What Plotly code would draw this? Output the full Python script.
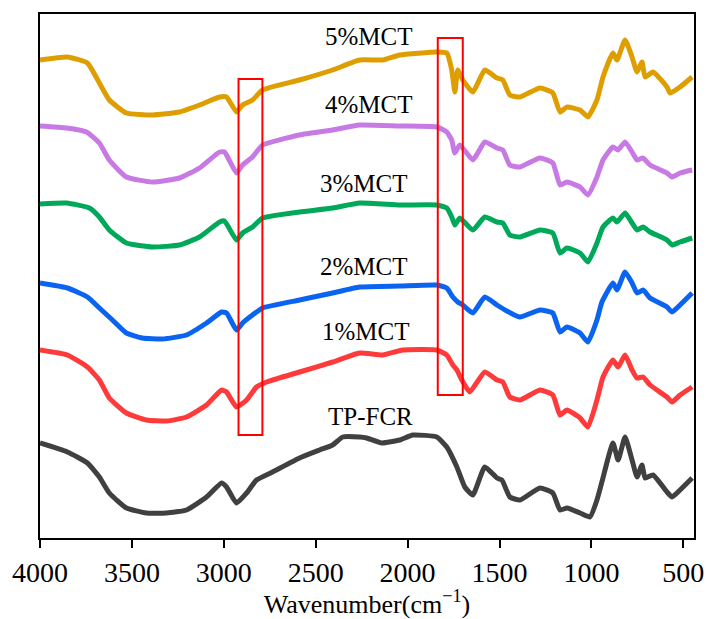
import plotly.graph_objects as go

# FTIR spectra (stacked, arbitrary transmittance units)
wn_5 = [4000, 3851, 3742, 3677, 3623, 3530, 3388, 3241, 3132, 3023, 2985, 2931, 2898, 2844, 2789,
        2588, 2408, 2261, 2135, 2043, 1841, 1787, 1760, 1743, 1727, 1700, 1645, 1580, 1514, 1482,
        1444, 1389, 1280, 1210, 1171, 1133, 1062, 1019, 970, 937, 883, 861, 817, 779, 752, 725,
        708, 665, 589, 572, 518, 452]
t_5 = [47.8, 48.1, 47.5, 45.5, 43.8, 42.5, 42.3, 42.6, 43.3, 44.1, 44.1, 42.6, 43.3, 43.8, 44.8,
       45.8, 46.8, 47.8, 47.8, 48.3, 48.6, 48.5, 46.8, 44.6, 46.8, 45.8, 44.6, 46.8, 46.0, 45.8,
       44.3, 44.1, 45.0, 44.5, 42.6, 43.1, 42.8, 42.1, 43.8, 46.1, 48.5, 47.8, 49.8, 48.1, 46.6, 47.6,
       46.1, 46.6, 45.1, 44.5, 45.1, 46.1]

wn_4 = [4000, 3856, 3747, 3677, 3623, 3530, 3388, 3241, 3132, 3023, 2996, 2931, 2898, 2844, 2789,
        2588, 2408, 2261, 2043, 1841, 1787, 1760, 1743, 1716, 1645, 1580, 1514, 1482, 1444, 1389,
        1280, 1210, 1171, 1133, 1062, 1019, 970, 937, 883, 855, 817, 779, 752, 720, 681, 589, 561,
        518, 452]
t_4 = [41.2, 41.0, 40.6, 39.5, 37.8, 36.1, 35.6, 36.0, 37.0, 38.6, 38.6, 36.5, 37.3, 38.1, 39.3,
       40.3, 40.8, 41.3, 41.2, 41.1, 40.6, 39.8, 38.5, 39.3, 37.8, 39.6, 39.0, 38.8, 37.3, 37.1,
       38.0, 37.5, 35.3, 35.6, 35.1, 34.3, 36.1, 37.8, 39.1, 38.8, 39.6, 38.6, 37.8, 38.0, 37.3, 36.5, 36.1,
       36.5, 36.8]

wn_3 = [4000, 3856, 3731, 3677, 3623, 3530, 3388, 3241, 3132, 3023, 2996, 2931, 2898, 2844, 2789,
        2588, 2408, 2261, 2043, 1841, 1787, 1760, 1743, 1716, 1645, 1580, 1514, 1482, 1444, 1389,
        1280, 1210, 1171, 1133, 1062, 1019, 970, 937, 883, 861, 817, 779, 752, 719, 681, 589, 561,
        518, 452]
t_3 = [33.4, 33.5, 33.0, 32.1, 30.8, 29.5, 29.1, 29.3, 30.1, 31.6, 31.7, 29.8, 30.5, 31.1, 32.0,
       32.6, 33.0, 33.5, 33.3, 33.3, 33.0, 32.1, 31.3, 32.0, 30.8, 32.1, 31.6, 31.5, 30.3, 30.1,
       30.8, 30.5, 28.5, 29.0, 28.5, 27.6, 29.5, 31.1, 32.0, 31.6, 32.5, 31.5, 30.8, 31.1, 30.6, 29.8, 29.3,
       29.6, 30.0]

wn_2 = [4000, 3851, 3742, 3677, 3606, 3530, 3443, 3334, 3203, 3094, 3012, 2985, 2931, 2898, 2844,
        2789, 2588, 2408, 2261, 2043, 1841, 1787, 1754, 1727, 1700, 1645, 1580, 1514, 1460, 1389,
        1280, 1210, 1171, 1133, 1062, 1019, 970, 943, 883, 861, 817, 779, 752, 719, 681, 589, 561,
        518, 452]
t_2 = [25.5, 25.0, 24.1, 23.0, 21.8, 20.5, 20.0, 19.9, 20.3, 21.5, 22.6, 22.5, 20.8, 21.5, 22.3,
       23.0, 23.8, 24.5, 25.1, 25.2, 25.3, 25.0, 24.1, 23.6, 23.3, 22.5, 24.1, 23.3, 22.7, 22.1,
       22.8, 22.5, 20.6, 21.1, 20.5, 19.6, 21.8, 23.6, 25.5, 24.8, 26.6, 25.5, 24.5, 24.8, 24.0, 23.1, 22.6,
       23.3, 24.5]

wn_1 = [4000, 3851, 3742, 3677, 3623, 3530, 3421, 3312, 3203, 3094, 3012, 2985, 2931, 2876, 2822,
        2767, 2588, 2408, 2261, 2135, 2027, 1841, 1787, 1754, 1732, 1705, 1662, 1580, 1514, 1482,
        1444, 1389, 1280, 1210, 1171, 1133, 1062, 1019, 970, 937, 883, 855, 817, 779, 752, 719, 681,
        589, 561, 518, 452]
t_1 = [18.8, 18.3, 17.1, 15.8, 14.0, 12.5, 11.8, 11.7, 12.1, 13.3, 14.8, 14.6, 13.1, 13.8, 15.1,
       15.6, 16.6, 17.6, 18.5, 18.3, 18.8, 18.8, 18.3, 17.3, 16.8, 15.8, 14.6, 16.6, 15.8, 15.6,
       14.1, 13.8, 14.8, 14.3, 12.3, 12.8, 12.0, 11.1, 13.8, 16.1, 17.8, 17.1, 18.3, 16.8, 16.0, 16.1, 15.3,
       14.1, 13.6, 14.3, 15.1]

wn_0 = [4000, 3851, 3742, 3677, 3623, 3530, 3421, 3312, 3203, 3094, 3012, 2985, 2931, 2876, 2822,
        2735, 2588, 2479, 2408, 2353, 2261, 2223, 2141, 2043, 1972, 1841, 1787, 1732, 1689, 1645,
        1580, 1514, 1487, 1444, 1389, 1280, 1210, 1171, 1133, 1062, 1008, 970, 943, 883, 855, 817,
        779, 752, 725, 708, 665, 589, 561, 518, 452]
t_0 = [9.5, 8.6, 7.5, 6.1, 4.5, 3.0, 2.5, 2.5, 2.8, 4.1, 5.5, 5.1, 3.5, 4.5, 5.8,
       6.6, 8.0, 8.8, 9.3, 10.1, 10.1, 10.0, 9.5, 9.8, 10.3, 10.1, 9.1, 7.1, 5.1, 4.3,
       7.1, 6.0, 5.8, 4.1, 3.8, 5.0, 4.5, 2.8, 3.0, 2.5, 2.1, 3.8, 5.6, 9.5, 7.8, 10.1,
       7.8, 6.1, 7.3, 6.0, 6.3, 4.6, 4.1, 4.8, 6.0]

names = ["TP-FCR", "1%MCT", "2%MCT", "3%MCT", "4%MCT", "5%MCT"]
wavenumbers = [wn_0, wn_1, wn_2, wn_3, wn_4, wn_5]
spectra = [t_0, t_1, t_2, t_3, t_4, t_5]
colors = ["#404040", "#FF3A3A", "#0A64F0", "#00A85A", "#C77AE4", "#DE9E00"]

# label anchor positions (wavenumber, transmittance)
label_x = [2201, 2228, 2239, 2239, 2212, 2212]
label_y = [12.2, 20.7, 27.2, 35.5, 43.4, 50.2]

# highlighted bands
boxes = [(2920, 2790, 10.3, 45.9), (1836, 1700, 14.3, 50.0)]

xticks = [4000, 3500, 3000, 2500, 2000, 1500, 1000, 500]

serif = "Liberation Serif"

fig = go.Figure()
for name, wn, t, c in zip(names, wavenumbers, spectra, colors):
    fig.add_trace(go.Scatter(
        x=wn, y=t, mode="lines", name=name,
        line=dict(color=c, width=5, shape="spline", smoothing=0.45),
        showlegend=False,
    ))

for name, lx, ly in zip(names, label_x, label_y):
    fig.add_annotation(x=lx, y=ly, text=name, showarrow=False,
                       font=dict(family=serif, size=25, color="black"),
                       xanchor="center", yanchor="middle")

for x0, x1, y0, y1 in boxes:
    fig.add_shape(type="rect", xref="x", yref="y", x0=x0, x1=x1, y0=y0, y1=y1,
                  line=dict(color="#FF0000", width=2), fillcolor="rgba(0,0,0,0)")

fig.update_layout(
    width=707, height=619,
    margin=dict(l=40, r=13, t=14, b=81),
    paper_bgcolor="white", plot_bgcolor="white",
    font=dict(family=serif, color="black", size=25),
)
fig.update_xaxes(
    range=[4000, 442], tickmode="array", tickvals=xticks,
    ticktext=[str(v) for v in xticks], automargin=False,
    ticks="outside", ticklen=8, tickwidth=2, tickcolor="black",
    showline=True, linewidth=2, linecolor="black", mirror=True,
    showgrid=False, zeroline=False,
    tickfont=dict(family=serif, size=28, color="black"),
    title=dict(text="Wavenumber(cm<sup>−1</sup>)",
               font=dict(family=serif, size=26, color="black"), standoff=2),
)
fig.update_yaxes(
    range=[0, 52.4], showticklabels=False, ticks="", automargin=False,
    showline=True, linewidth=2, linecolor="black", mirror=True,
    showgrid=False, zeroline=False,
)

fig.write_html("out.html")
